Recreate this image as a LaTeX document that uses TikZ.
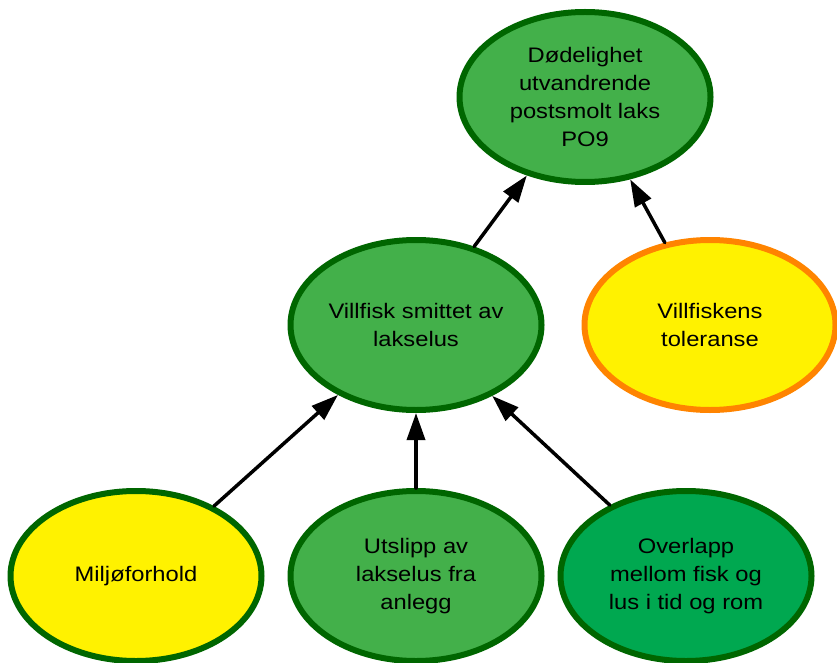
\documentclass[tikz,border=0pt]{standalone}
\usepackage{fontspec}
\setmainfont{Liberation Sans}[FakeStretch=1.13]
\usetikzlibrary{shapes.geometric,arrows.meta}
\definecolor{leaf}{RGB}{67,176,74}
\definecolor{deepleaf}{RGB}{0,168,80}
\definecolor{rim}{RGB}{0,102,0}
\definecolor{lemon}{RGB}{255,242,0}
\definecolor{amber}{RGB}{255,132,0}
\tikzset{
  factor/.style={ellipse,draw=rim,line width=6pt,fill=leaf,minimum width=251pt,minimum height=170pt,
    inner sep=0pt,align=center,font=\fontsize{21}{28}\selectfont},
  link/.style={->,line width=3.5pt}
}
\begin{document}
\begin{tikzpicture}[line cap=round,line join=round,>={Triangle[length=27pt,width=18pt]},x=1pt,y=-1pt]
\useasboundingbox (0,0) rectangle (837,663);
\node[factor] (dod) at (585,97) {Dødelighet\\utvandrende\\postsmolt laks\\PO9};
\node[factor] (smitte) at (416,325) {Villfisk smittet av\\lakselus};
\node[factor,fill=lemon,draw=amber] (toleranse) at (710,325) {Villfiskens\\toleranse};
\node[factor,fill=lemon] (miljo) at (136,576) {Miljøforhold};
\node[factor] (utslipp) at (416,576) {Utslipp av\\lakselus fra\\anlegg};
\node[factor,fill=deepleaf] (overlapp) at (686,576) {Overlapp\\mellom fisk og\\lus i tid og rom};
\draw[link] (smitte) -- (dod);
\draw[link] (toleranse) -- (dod);
\draw[link] (miljo) -- (smitte);
\draw[link] (utslipp) -- (smitte);
\draw[link] (overlapp) -- (smitte);
\end{tikzpicture}
\end{document}
